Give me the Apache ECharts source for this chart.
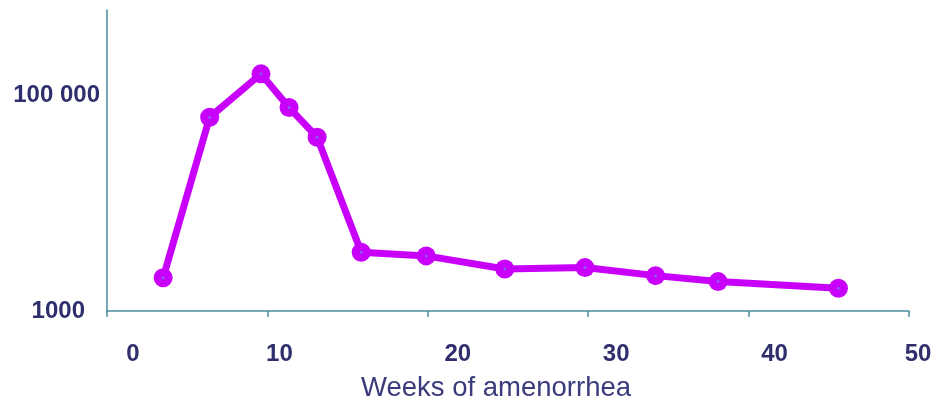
<!DOCTYPE html>
<html>
<head>
<meta charset="utf-8">
<script src="https://cdn.jsdelivr.net/npm/echarts@6/dist/echarts.min.js"></script>
<style>
  html, body { margin: 0; padding: 0; background: #ffffff; }
  #chart { width: 935px; height: 403px; }
</style>
</head>
<body>
<div id="chart"></div>
<script>
// hCG level by gestational age (weeks of amenorrhea), log scale
const weeks = [3.5, 6.4, 9.6, 11.35, 13.1, 15.85, 19.9, 24.8, 29.8, 34.2, 38.1, 45.6];
const hcgLevels = [2020, 59800, 149300, 73300, 39200, 3450, 3200, 2430, 2500, 2110, 1860, 1615];
const xTickValues = [0, 10, 20, 30, 40, 50];
const yTickValues = [1000, 100000];
const yTickLabels = ['1000', '100 000'];
const xTitle = 'Weeks of amenorrhea';

// small horizontal nudges for the week labels (px shift of each label's centre)
const xLabelShift = [26, 12, 30, 28, 26, 9];

const labelColor = '#2f2f6e';
const axisColor = '#4a8d9c';
const lineColor = '#c800fa';

const xRich = {};
xTickValues.forEach((v, i) => {
  xRich['t' + i] = {
    fontFamily: 'Liberation Sans, Arial, sans-serif',
    fontWeight: 'bold',
    fontSize: 24,
    color: labelColor,
    padding: [0, 0, 0, xLabelShift[i] * 2]
  };
});

const chart = echarts.init(document.getElementById('chart'), null, { renderer: 'canvas' });
chart.setOption({
  animation: false,
  backgroundColor: '#ffffff',
  grid: {
    left: 107, right: 26, top: 10, bottom: 92,
    containLabel: false,
    outerBoundsMode: 'none'
  },
  xAxis: {
    type: 'value',
    min: 0,
    max: 50,
    interval: 10,
    name: xTitle,
    nameLocation: 'middle',
    nameGap: 63,
    nameTextStyle: {
      fontFamily: 'Liberation Sans, Arial, sans-serif',
      fontSize: 27.5,
      color: '#3a3a7c',
      padding: [0, 24, 0, 0]
    },
    axisLine: { show: true, lineStyle: { color: axisColor, width: 1.5 } },
    axisTick: { show: true, length: 6, lineStyle: { color: axisColor, width: 1.5 } },
    splitLine: { show: false },
    axisLabel: {
      margin: 31,
      showMinLabel: true,
      showMaxLabel: true,
      formatter: function (v) {
        const i = xTickValues.indexOf(Math.round(v));
        return i < 0 ? '' : '{t' + i + '|' + xTickValues[i] + '}';
      },
      rich: xRich
    }
  },
  yAxis: {
    type: 'log',
    logBase: 10,
    min: 1000,
    max: 575000,
    axisLine: { show: true, lineStyle: { color: axisColor, width: 1.5 } },
    axisTick: { show: false },
    splitLine: { show: false },
    axisLabel: {
      margin: 7,
      showMaxLabel: false,
      formatter: function (v) {
        const r = Math.round(v);
        const i = yTickValues.indexOf(r);
        if (i < 0) return '';
        return (i === 0 ? '{lo|' : '{hi|') + yTickLabels[i] + '}';
      },
      rich: {
        lo: {
          fontFamily: 'Liberation Sans, Arial, sans-serif', fontWeight: 'bold',
          fontSize: 24, color: labelColor, padding: [0, 15, 0, 0]
        },
        hi: {
          fontFamily: 'Liberation Sans, Arial, sans-serif', fontWeight: 'bold',
          fontSize: 24, color: labelColor, padding: [6, 0, 0, 0]
        }
      }
    }
  },
  series: [
    {
      type: 'line',
      data: weeks.map((w, i) => [w, hcgLevels[i]]),
      symbol: 'circle',
      symbolSize: 19,
      lineStyle: { color: lineColor, width: 7 },
      itemStyle: { color: lineColor },
      z: 2
    },
    {
      // tiny centre dot on each marker
      type: 'scatter',
      data: weeks.map((w, i) => [w, hcgLevels[i]]),
      symbol: 'circle',
      symbolSize: 3,
      itemStyle: { color: '#7a70e8' },
      z: 3
    }
  ]
});
</script>
</body>
</html>
